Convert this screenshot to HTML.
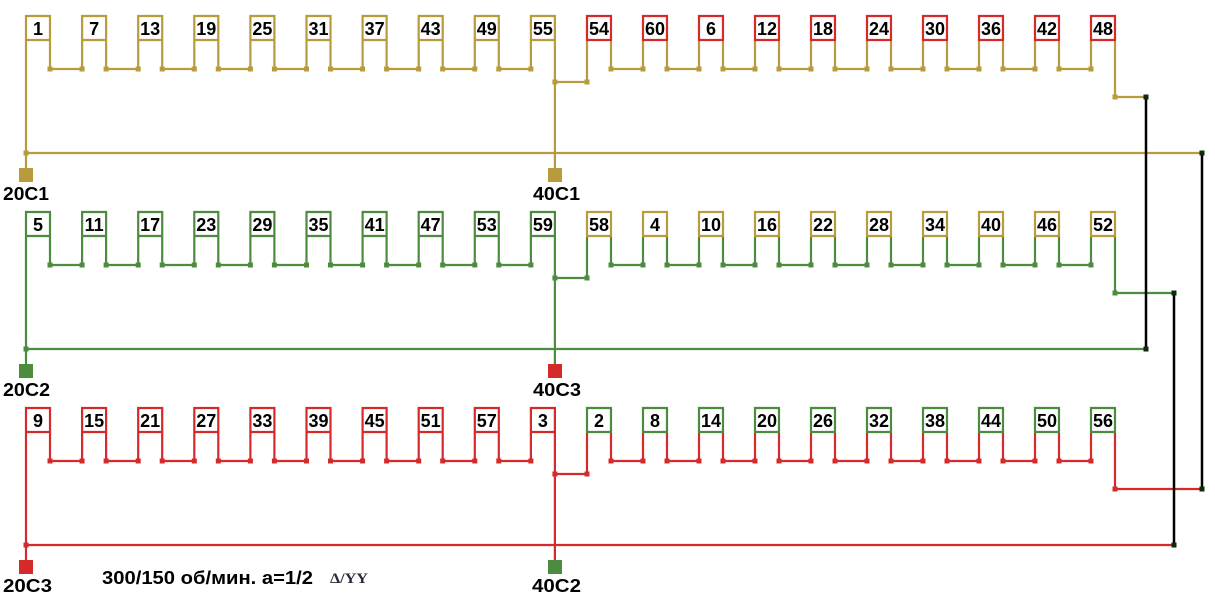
<!DOCTYPE html>
<html><head><meta charset="utf-8"><style>
html,body{margin:0;padding:0;background:#fff;}
svg{display:block;}
text{font-family:"Liberation Sans",Arial,sans-serif;font-weight:bold;fill:#000;}
</style></head><body>
<svg width="1215" height="612" viewBox="0 0 1215 612" xmlns="http://www.w3.org/2000/svg">
<defs>
<path id="ch" fill="none" d="M50 41V69H82.1V41M106.1 41V69H138.2V41M162.2 41V69H194.3V41M218.3 41V69H250.4V41M274.4 41V69H306.5V41M330.5 41V69H362.6V41M386.6 41V69H418.7V41M442.7 41V69H474.8V41M498.8 41V69H530.9V41M611 41V69H643V41M667 41V69H699V41M723 41V69H755V41M779 41V69H811V41M835 41V69H867V41M891 41V69H923V41M947 41V69H979V41M1003 41V69H1035V41M1059 41V69H1091V41M26 41V168M554.9 41V168M554.9 82H587V41M1115 41V97"/>
<path id="dt" stroke="none" d="M47.5 66.5h5v5h-5zM79.6 66.5h5v5h-5zM103.6 66.5h5v5h-5zM135.7 66.5h5v5h-5zM159.7 66.5h5v5h-5zM191.8 66.5h5v5h-5zM215.8 66.5h5v5h-5zM247.9 66.5h5v5h-5zM271.9 66.5h5v5h-5zM304 66.5h5v5h-5zM328 66.5h5v5h-5zM360.1 66.5h5v5h-5zM384.1 66.5h5v5h-5zM416.2 66.5h5v5h-5zM440.2 66.5h5v5h-5zM472.3 66.5h5v5h-5zM496.3 66.5h5v5h-5zM528.4 66.5h5v5h-5zM608.5 66.5h5v5h-5zM640.5 66.5h5v5h-5zM664.5 66.5h5v5h-5zM696.5 66.5h5v5h-5zM720.5 66.5h5v5h-5zM752.5 66.5h5v5h-5zM776.5 66.5h5v5h-5zM808.5 66.5h5v5h-5zM832.5 66.5h5v5h-5zM864.5 66.5h5v5h-5zM888.5 66.5h5v5h-5zM920.5 66.5h5v5h-5zM944.5 66.5h5v5h-5zM976.5 66.5h5v5h-5zM1000.5 66.5h5v5h-5zM1032.5 66.5h5v5h-5zM1056.5 66.5h5v5h-5zM1088.5 66.5h5v5h-5zM23.5 150.5h5v5h-5zM552.4 79.5h5v5h-5zM584.5 79.5h5v5h-5zM1112.5 94.5h5v5h-5z"/>
<path id="b1" fill="#fff" d="M26 16h24v24h-24zM82.1 16h24v24h-24zM138.2 16h24v24h-24zM194.3 16h24v24h-24zM250.4 16h24v24h-24zM306.5 16h24v24h-24zM362.6 16h24v24h-24zM418.7 16h24v24h-24zM474.8 16h24v24h-24zM530.9 16h24v24h-24z"/>
<path id="b2" fill="#fff" d="M587 16h24v24h-24zM643 16h24v24h-24zM699 16h24v24h-24zM755 16h24v24h-24zM811 16h24v24h-24zM867 16h24v24h-24zM923 16h24v24h-24zM979 16h24v24h-24zM1035 16h24v24h-24zM1091 16h24v24h-24z"/>
</defs>

<!-- Row 1 (gold wires) -->
<g stroke="#b89b3c" stroke-width="2.2" fill="none">
<use href="#ch"/>
<path d="M1115 97H1146M26 153H1202"/>
</g>
<use href="#dt" fill="#b89b3c"/>
<!-- Row 2 (green wires) -->
<g stroke="#4c8c3e" stroke-width="2.2" fill="none">
<use href="#ch" y="196"/>
<path d="M1115 293H1174M26 349H1146"/>
</g>
<use href="#dt" y="196" fill="#4c8c3e"/>
<!-- Row 3 (red wires) -->
<g stroke="#d42a2a" stroke-width="2.2" fill="none">
<use href="#ch" y="392"/>
<path d="M1115 489H1202M26 545H1174"/>
</g>
<use href="#dt" y="392" fill="#d42a2a"/>

<!-- black links -->
<path d="M1146 97V349M1202 153V489M1174 293V545" stroke="#000" stroke-width="2.5" fill="none"/>
<g fill="#0d2a0d">
<rect x="1143.5" y="94.5" width="5" height="5"/>
<rect x="1199.5" y="150.5" width="5" height="5"/>
<rect x="1171.5" y="290.5" width="5" height="5"/>
<rect x="1143.5" y="346.5" width="5" height="5"/>
<rect x="1199.5" y="486.5" width="5" height="5"/>
<rect x="1171.5" y="542.5" width="5" height="5"/>
</g>

<!-- boxes -->
<g stroke-width="2.2">
<use href="#b1" stroke="#b89b3c"/>
<use href="#b2" stroke="#d42a2a"/>
<use href="#b1" y="196" stroke="#4c8c3e"/>
<use href="#b2" y="196" stroke="#b89b3c"/>
<use href="#b1" y="392" stroke="#d42a2a"/>
<use href="#b2" y="392" stroke="#4c8c3e"/>
</g>

<!-- terminals -->
<rect x="19" y="168" width="14" height="14" fill="#b89b3c"/>
<rect x="548" y="168" width="14" height="14" fill="#b89b3c"/>
<rect x="19" y="364" width="14" height="14" fill="#4c8c3e"/>
<rect x="548" y="364" width="14" height="14" fill="#d42a2a"/>
<rect x="19" y="560" width="14" height="14" fill="#d42a2a"/>
<rect x="548" y="560" width="14" height="14" fill="#4c8c3e"/>

<!-- box numbers -->
<g font-size="18" text-anchor="middle">
<text x="38" y="35">1</text><text x="94.1" y="35">7</text><text x="150.2" y="35">13</text><text x="206.3" y="35">19</text><text x="262.4" y="35">25</text><text x="318.5" y="35">31</text><text x="374.6" y="35">37</text><text x="430.7" y="35">43</text><text x="486.8" y="35">49</text><text x="542.9" y="35">55</text>
<text x="599" y="35">54</text><text x="655" y="35">60</text><text x="711" y="35">6</text><text x="767" y="35">12</text><text x="823" y="35">18</text><text x="879" y="35">24</text><text x="935" y="35">30</text><text x="991" y="35">36</text><text x="1047" y="35">42</text><text x="1103" y="35">48</text>

<text x="38" y="231">5</text><text x="94.1" y="231">11</text><text x="150.2" y="231">17</text><text x="206.3" y="231">23</text><text x="262.4" y="231">29</text><text x="318.5" y="231">35</text><text x="374.6" y="231">41</text><text x="430.7" y="231">47</text><text x="486.8" y="231">53</text><text x="542.9" y="231">59</text>
<text x="599" y="231">58</text><text x="655" y="231">4</text><text x="711" y="231">10</text><text x="767" y="231">16</text><text x="823" y="231">22</text><text x="879" y="231">28</text><text x="935" y="231">34</text><text x="991" y="231">40</text><text x="1047" y="231">46</text><text x="1103" y="231">52</text>

<text x="38" y="427">9</text><text x="94.1" y="427">15</text><text x="150.2" y="427">21</text><text x="206.3" y="427">27</text><text x="262.4" y="427">33</text><text x="318.5" y="427">39</text><text x="374.6" y="427">45</text><text x="430.7" y="427">51</text><text x="486.8" y="427">57</text><text x="542.9" y="427">3</text>
<text x="599" y="427">2</text><text x="655" y="427">8</text><text x="711" y="427">14</text><text x="767" y="427">20</text><text x="823" y="427">26</text><text x="879" y="427">32</text><text x="935" y="427">38</text><text x="991" y="427">44</text><text x="1047" y="427">50</text><text x="1103" y="427">56</text>
</g>

<!-- terminal labels -->
<g font-size="18">
<text x="3" y="200" textLength="46" lengthAdjust="spacingAndGlyphs">20С1</text>
<text x="533" y="200" textLength="47" lengthAdjust="spacingAndGlyphs">40С1</text>
<text x="3" y="396" textLength="47" lengthAdjust="spacingAndGlyphs">20С2</text>
<text x="533" y="396" textLength="48" lengthAdjust="spacingAndGlyphs">40С3</text>
<text x="3" y="592" textLength="49" lengthAdjust="spacingAndGlyphs">20С3</text>
<text x="532" y="592" textLength="49" lengthAdjust="spacingAndGlyphs">40С2</text>
</g>

<!-- caption -->
<text x="102" y="584" font-size="18" textLength="211" lengthAdjust="spacingAndGlyphs">300/150 об/мин. а=1/2</text>
<text x="330" y="583" font-size="15" textLength="38" lengthAdjust="spacingAndGlyphs" style="font-family:'Liberation Serif','DejaVu Serif',serif;fill:#2a2a3a;">Δ/YY</text>
</svg>
</body></html>
